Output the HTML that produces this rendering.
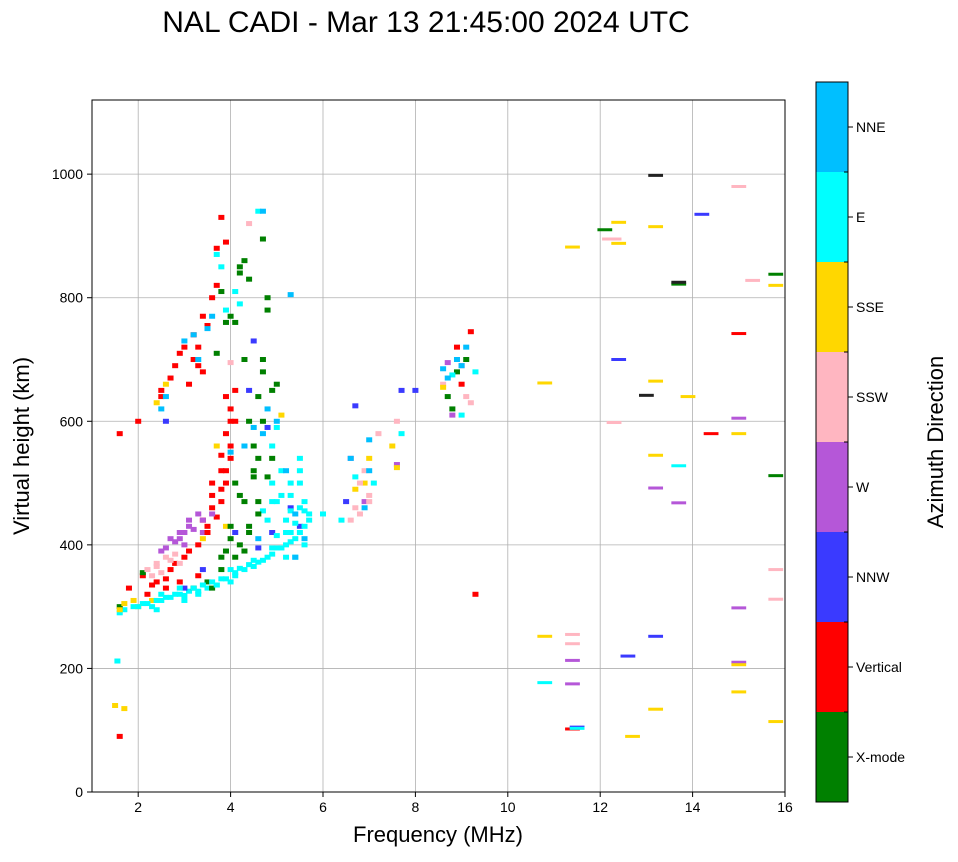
<!DOCTYPE html>
<html><head><meta charset="utf-8"><style>
body{margin:0;background:#fff;font-family:"Liberation Sans",sans-serif}
</style></head><body>
<svg id="chart" width="958" height="857" xmlns="http://www.w3.org/2000/svg" font-family="Liberation Sans, sans-serif"></svg>
<script>
const directions=["X-mode","Vertical","NNW","W","SSW","SSE","E","NNE","other"];
const dirColors=["#008000","#ff0000","#3a3aff","#b557d8","#ffb6c1","#ffd700","#00ffff","#00bfff","#222222"];
const xTicks=[2,4,6,8,10,12,14,16];
const yTicks=[0,200,400,600,800,1000];
const freqs=[1.6,1.7,1.9,2.1,2.3,2.5,2.7,2.9,3.1,3.3,3.5,3.7,3.9,4.1,4.3,4.5,4.7,4.9,5.1,5.3,5.5,5.7,5.2,5.4,5.6,4.0,3.0,2.4,5.0,5.3,5.5,4.8,5.2,5.6,5.1,5.5,4.9,5.0,4.1,4.2,3.7,3.8,3.9,
1.8,2.1,2.4,2.7,3.0,3.3,3.5,3.6,3.8,3.9,4.0,3.9,4.0,4.1,3.8,3.3,2.9,2.6,2.2,1.6,2.0,2.5,2.8,3.0,3.2,3.4,3.6,3.7,3.8,3.9,3.3,3.1,1.6,9.3,11.4,14.4,15.0,9.0,8.9,9.2,
3.5,3.8,4.0,4.2,4.4,4.6,4.8,4.9,4.5,4.7,4.6,4.7,4.8,4.3,4.2,4.0,3.7,3.9,4.3,4.1,4.5,2.1,1.6,12.1,13.7,15.8,15.8,8.7,8.9,9.1,8.8,4.7,3.6,3.2,
3.0,3.4,4.1,4.6,4.9,5.3,4.8,4.5,4.4,2.6,12.4,12.6,13.2,14.2,11.5,5.5,6.5,6.7,7.7,8.0,
2.7,2.9,3.1,3.3,2.5,3.0,3.4,6.6,6.9,8.7,9.0,11.4,11.4,13.2,13.7,15.0,15.0,15.0,8.8,7.6,
2.4,2.6,2.8,2.3,6.6,6.8,7.0,6.9,7.2,7.6,4.0,4.4,12.3,12.3,11.4,11.4,15.0,15.3,15.8,15.8,9.1,9.2,8.6,12.2,
1.6,1.7,1.9,2.0,2.3,2.4,2.6,3.4,3.7,3.9,6.9,7.0,7.5,7.6,6.7,10.8,10.8,11.4,12.4,12.4,13.2,13.2,13.2,12.7,13.2,13.9,15.0,15.0,15.0,15.8,15.8,1.5,1.7,5.1,8.6,
10.8,11.5,13.7,6.0,6.4,6.7,7.1,1.55,8.8,9.3,9.0,7.7,4.6,
2.5,3.2,3.6,4.3,4.6,5.6,5.4,4.7,6.9,7.0,8.6,9.0,5.3,4.7,8.9,
13.2,13.0,13.7,
2.0,2.2,2.4,2.6,2.8,3.0,3.2,3.4,3.6,3.8,4.0,4.2,4.4,4.6,4.8,5.0,5.2,5.4,5.6,2.5,2.9,3.3,3.7,4.1,4.5,4.9,5.3,5.7,5.0,5.2,5.4,5.6,5.3,5.5,4.9,5.1,5.3,5.5,4.7,4.9,
2.3,2.6,2.8,3.1,3.4,3.5,3.7,3.6,3.9,4.0,3.8,4.1,3.4,3.2,2.5,2.7,2.9,3.5,3.7,3.3,3.9,4.0,3.8,3.6,
3.8,4.1,4.3,4.4,4.6,4.5,4.2,4.0,3.9,4.3,4.7,4.6,4.4,4.1,3.8,4.2,4.4,4.8,4.9,5.0,
2.6,2.8,3.0,3.2,3.4,3.6,3.1,2.9,
2.2,2.5,2.7,2.9,2.4,6.7,7.0,6.8,
2.6,3.3,3.5,3.0,4.8,5.0,5.4,5.2,6.6,7.0,8.7,9.1,4.5,4.0];
const heights=[290,295,300,305,300,310,315,320,325,320,330,335,345,355,360,365,375,385,395,405,420,440,380,380,400,340,310,295,470,500,460,440,440,470,520,540,560,590,810,790,870,850,780,
330,350,340,360,380,400,430,460,490,520,540,580,620,650,470,350,340,330,320,580,600,640,690,720,740,770,800,880,930,890,690,660,90,320,102,580,742,660,720,745,
340,380,410,400,430,470,510,540,560,600,640,700,800,860,840,770,710,760,470,500,510,355,300,910,822,838,512,640,680,700,620,895,330,330,
330,360,420,395,420,460,590,730,650,600,700,220,252,935,105,430,470,625,650,650,
410,420,440,450,390,400,420,540,470,695,690,175,213,492,468,298,210,605,610,530,
370,380,385,350,440,450,480,520,580,600,695,920,895,598,255,240,980,828,360,312,640,630,660,895,
295,305,310,300,310,630,660,410,560,430,500,540,560,525,490,662,252,882,922,888,665,545,134,90,915,640,580,206,162,820,114,140,135,610,655,
177,103,528,450,440,510,500,212,675,680,610,580,940,
620,740,770,560,410,410,380,580,460,570,685,690,805,940,700,
998,642,825,
300,305,310,315,320,318,330,335,340,345,360,362,368,372,380,395,400,410,430,320,330,325,335,350,375,395,420,450,415,420,435,455,480,520,500,480,455,500,455,470,
335,345,370,390,440,420,445,500,500,560,545,600,680,700,650,670,710,755,820,720,640,600,520,480,
360,380,390,420,450,520,480,430,390,700,680,540,600,760,810,850,830,780,650,660,
395,405,420,425,440,450,430,410,
360,355,375,370,365,460,470,500,
640,700,750,730,620,600,450,520,540,520,670,720,590,550];
const groupDirs=[6,1,0,2,3,4,5,6,7,8,6,1,0,3,4,7];
const groupCounts=[43,40,34,20,20,24,35,13,15,3,40,24,20,8,8,14];
const dirs=[];
groupDirs.forEach((c,g)=>{for(let i=0;i<groupCounts[g];i++)dirs.push(c);});

const svg=document.getElementById('chart');
const NS="http://www.w3.org/2000/svg";
const L=92,R=785,T=100,B=792,xMin=1,xMax=16,yMin=0,yMax=1120;
const xs=f=>L+(f-xMin)/(xMax-xMin)*(R-L);
const ys=h=>B-(h-yMin)/(yMax-yMin)*(B-T);
function mk(tag,attrs,parent){const e=document.createElementNS(NS,tag);for(const k in attrs)e.setAttribute(k,attrs[k]);(parent||svg).appendChild(e);return e;}

const title=mk('text',{x:426,y:32,'text-anchor':'middle','font-size':30,fill:'#000'});


title.textContent='NAL CADI - Mar 13 21:45:00 2024 UTC';

const grid=mk('g',{});


xTicks.forEach(t=>{mk('line',{x1:xs(t),x2:xs(t),y1:T,y2:B,stroke:'#b0b0b0','stroke-width':0.8},grid);});
yTicks.forEach(t=>{mk('line',{x1:L,x2:R,y1:ys(t),y2:ys(t),stroke:'#b0b0b0','stroke-width':0.8},grid);});

const marks=mk('g',{});


for(let i=0;i<freqs.length;i++){
  const f=freqs[i],h=heights[i];
  const w=f>9.5?0.32:0.13;
  const hh=f>9.5?3:5;
  const r=mk('rect',{x:xs(f)-(xs(w)-xs(0))/2,y:ys(h)-hh/2,width:xs(w)-xs(0),height:hh,fill:dirColors[dirs[i]]},marks);
  
  
}

const frame=mk('rect',{x:L,y:T,width:R-L,height:B-T,fill:'none',stroke:'#000','stroke-width':1});



const xa=mk('g',{});


xTicks.forEach(t=>{mk('line',{x1:xs(t),x2:xs(t),y1:B,y2:B+5,stroke:'#000'},xa);
  const tx=mk('text',{x:xs(t),y:B+20,'text-anchor':'middle','font-size':14},xa);tx.textContent=t;});
const xl=mk('text',{x:438,y:842,'text-anchor':'middle','font-size':22});


xl.textContent='Frequency (MHz)';

const ya=mk('g',{});


yTicks.forEach(t=>{mk('line',{x1:L-5,x2:L,y1:ys(t),y2:ys(t),stroke:'#000'},ya);
  const tx=mk('text',{x:L-9,y:ys(t)+5,'text-anchor':'end','font-size':14},ya);tx.textContent=t;});
const yl=mk('text',{x:0,y:0,'text-anchor':'middle','font-size':22,transform:'translate(29,446) rotate(-90)'});


yl.textContent='Virtual height (km)';

const cb=mk('g',{});


const cT=82,cB=802,cL=816,cW=32,segH=(cB-cT)/8;
for(let i=0;i<8;i++){
  const y0=cB-(i+1)*segH;
  const s=mk('rect',{x:cL,y:y0,width:cW,height:segH,fill:dirColors[i]},cb);
  
  
  mk('line',{x1:cL+cW,x2:cL+cW+5,y1:y0+segH/2,y2:y0+segH/2,stroke:'#000'},cb);
  const tx=mk('text',{x:cL+cW+8,y:y0+segH/2+5,'font-size':14},cb);tx.textContent=directions[i];
}
for(let i=0;i<=8;i++){mk('line',{x1:cL+cW-4,x2:cL+cW,y1:cT+i*segH,y2:cT+i*segH,stroke:'#000'},cb);}
mk('rect',{x:cL,y:cT,width:cW,height:cB-cT,fill:'none',stroke:'#000'},cb);
const cl=mk('text',{x:0,y:0,'text-anchor':'middle','font-size':22,transform:'translate(943,442) rotate(-90)'});


cl.textContent='Azimuth Direction';
</script>
</body></html>
